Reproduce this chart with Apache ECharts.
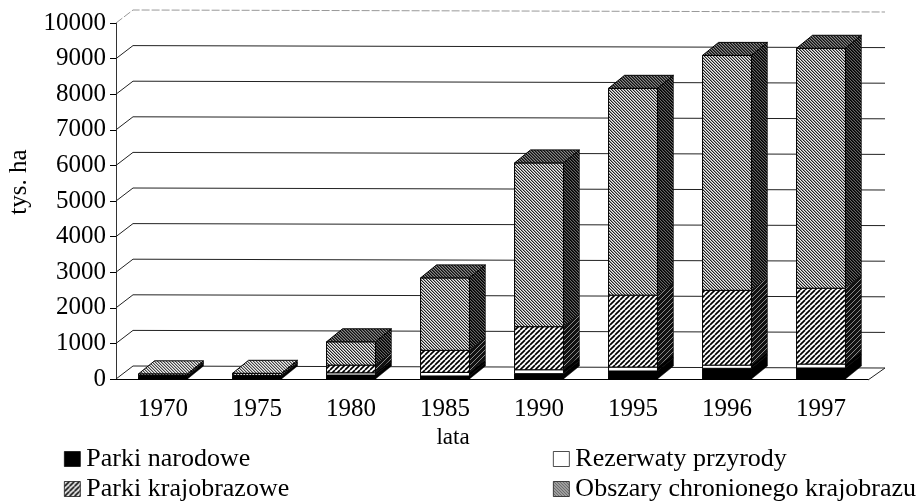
<!DOCTYPE html>
<html>
<head>
<meta charset="utf-8">
<script src="https://cdn.jsdelivr.net/npm/echarts@6/dist/echarts.min.js"></script>
<style>
  html, body { margin: 0; padding: 0; background: #fff; }
  #chart { width: 924px; height: 501px; }
</style>
</head>
<body>
<div id="chart"></div>
<script>
const years = ['1970', '1975', '1980', '1985', '1990', '1995', '1996', '1997'];
const parkiNarodowe = [70, 70, 110, 85, 150, 225, 300, 310];
const rezerwaty = [15, 15, 65, 100, 110, 110, 90, 110];
const parkiKrajobrazowe = [15, 15, 215, 620, 1210, 2020, 2100, 2130];
const obszary = [45, 60, 655, 2035, 4600, 5810, 6600, 6740];
const yTicks = [0, 1000, 2000, 3000, 4000, 5000, 6000, 7000, 8000, 9000, 10000];

const FONT = '"Liberation Serif"';
const DEPTH_X = 16;
const DEPTH_Y = 13;
const BAR_RATIO = 0.52;

// small repeating tiles for the scanned looking fills
function stripes(bg, fg, period, width, dir) {
  const c = document.createElement('canvas');
  c.width = c.height = period;
  const g = c.getContext('2d');
  g.fillStyle = bg;
  g.fillRect(0, 0, period, period);
  g.strokeStyle = fg;
  g.lineWidth = width;
  for (let k = -1; k <= 1; k++) {
    g.beginPath();
    if (dir > 0) {
      g.moveTo(k * period, period);
      g.lineTo(k * period + period, 0);
    } else {
      g.moveTo(k * period, 0);
      g.lineTo(k * period + period, period);
    }
    g.stroke();
  }
  return { image: c, repeat: 'repeat' };
}

// hard pixel diagonals, the fine gray goes muddy when drawn antialiased
function pixelDiagonal(shades) {
  const n = shades.length;
  const c = document.createElement('canvas');
  c.width = c.height = n;
  const g = c.getContext('2d');
  for (let x = 0; x < n; x++) {
    for (let y = 0; y < n; y++) {
      g.fillStyle = shades[(x - y + n) % n];
      g.fillRect(x, y, 1, 1);
    }
  }
  return { image: c, repeat: 'repeat' };
}

const grayFill = pixelDiagonal(['#222', '#999', '#eee']);
const hatchFill = stripes('#fff', '#000', 5, 1.7, 1);
const graySide = pixelDiagonal(['#000', '#222', '#666']);
const hatchSide = stripes('#111', '#999', 5, 0.9, 1);
const topFill = pixelDiagonal(['#111', '#444', '#888']);
// the two flat bars have a paler top in the scan
const flatTopFill = pixelDiagonal(['#444', '#aaa', '#eee']);

const layers = [
  { name: 'Parki narodowe', values: parkiNarodowe, front: '#000', side: '#000' },
  { name: 'Rezerwaty przyrody', values: rezerwaty, front: '#fff', side: '#000' },
  { name: 'Parki krajobrazowe', values: parkiKrajobrazowe, front: hatchFill, side: hatchSide },
  { name: 'Obszary chronionego krajobrazu', values: obszary, front: grayFill, side: graySide }
];

function renderLayer(front, side, isTop) {
  return function (params, api) {
    const lo = api.coord([api.value(0), api.value(1)]);
    const hi = api.coord([api.value(0), api.value(2)]);
    const w = api.size([1, 0])[0] * BAR_RATIO;
    const xl = lo[0] - w / 2;
    const xr = lo[0] + w / 2;
    const line = { stroke: '#000', lineWidth: 1 };
    const children = [
      {
        type: 'polygon',
        shape: { points: [[xr, lo[1]], [xr + DEPTH_X, lo[1] - DEPTH_Y], [xr + DEPTH_X, hi[1] - DEPTH_Y], [xr, hi[1]]] },
        style: { fill: side, stroke: '#000', lineWidth: 0.5 }
      },
      {
        type: 'rect',
        shape: { x: xl, y: hi[1], width: w, height: lo[1] - hi[1] },
        style: Object.assign({ fill: front }, line)
      }
    ];
    if (isTop) {
      children.push({
        type: 'polygon',
        shape: { points: [[xl, hi[1]], [xl + DEPTH_X, hi[1] - DEPTH_Y], [xr + DEPTH_X, hi[1] - DEPTH_Y], [xr, hi[1]]] },
        style: Object.assign({ fill: api.value(2) < 300 ? flatTopFill : topFill }, line)
      });
    }
    return { type: 'group', children: children };
  };
}

const barSeries = layers.map(function (layer, n) {
  return {
    name: layer.name,
    type: 'custom',
    z: 5,
    clip: false,
    itemStyle: { color: layer.front, borderColor: '#000', borderWidth: 1 },
    encode: { x: 0, y: [1, 2] },
    data: years.map(function (y, i) {
      let base = 0;
      for (let k = 0; k < n; k++) base += layers[k].values[i];
      return [i, base, base + layer.values[i]];
    }),
    renderItem: renderLayer(layer.front, layer.side, n === layers.length - 1)
  };
});

// back wall lines, folded from the front axis
const wallSeries = {
  type: 'custom',
  z: 1,
  clip: false,
  silent: true,
  data: yTicks.map(function (t) { return [0, t]; }),
  encode: { x: 0, y: 1 },
  renderItem: function (params, api) {
    const t = api.value(1);
    const start = api.coord([0, t]);
    const band = api.size([1, 0])[0];
    const xa = start[0] - band / 2;
    const xb = xa + band * years.length;
    const y = start[1];
    const points = [[xa, y], [xa + DEPTH_X + 1, y - DEPTH_Y], [xb + DEPTH_X + 1, y - DEPTH_Y + 2]];
    if (t === 0) points.push([xb, y + 1]);
    return {
      type: 'polyline',
      shape: { points: points },
      style: { fill: 'none', stroke: t === 10000 ? '#999' : '#222', lineWidth: 1, lineDash: t === 10000 ? [8, 2] : null }
    };
  }
};

// one legend per entry, the two columns are not evenly spaced
function legendItem(name, left, top) {
  return {
    data: [name],
    left: left,
    top: top,
    padding: 0,
    icon: 'rect',
    itemWidth: 16,
    itemHeight: 15,
    itemStyle: { borderColor: '#000', borderWidth: 0.7 },
    textStyle: { fontFamily: FONT, fontSize: 26, color: '#000', lineHeight: 22, padding: [0, 0, 0, 1] }
  };
}

const chart = echarts.init(document.getElementById('chart'));
chart.setOption({
  animation: false,
  backgroundColor: '#fff',
  grid: { left: 116, right: 56, top: 23, bottom: 122, outerBoundsMode: 'none' },
  xAxis: {
    type: 'category',
    data: years,
    name: 'lata',
    nameLocation: 'middle',
    nameGap: 42,
    nameTextStyle: { fontFamily: FONT, fontSize: 23, color: '#000', padding: [0, 78, 0, 0] },
    axisLine: { lineStyle: { color: '#000', width: 1 } },
    axisTick: { length: 6, lineStyle: { color: '#000' } },
    axisLabel: { fontFamily: FONT, fontSize: 25, color: '#000', margin: 18 }
  },
  yAxis: {
    type: 'value',
    min: 0,
    max: 10000,
    interval: 1000,
    name: 'tys. ha',
    nameLocation: 'middle',
    nameGap: 84,
    nameTextStyle: { fontFamily: FONT, fontSize: 25, color: '#000', padding: [0, 0, 0, 38] },
    splitLine: { show: false },
    axisLine: { show: true, lineStyle: { color: '#333', width: 1 } },
    axisTick: { show: true, length: 6, lineStyle: { color: '#000' } },
    axisLabel: {
      fontFamily: FONT,
      fontSize: 25,
      color: '#000',
      margin: 10,
      formatter: function (v) { return String(v); }
    }
  },
  legend: [
    legendItem(layers[0].name, 64, 446),
    legendItem(layers[2].name, 64, 476),
    legendItem(layers[1].name, 553, 446),
    legendItem(layers[3].name, 553, 476)
  ],
  series: [wallSeries].concat(barSeries)
});
</script>
</body>
</html>
